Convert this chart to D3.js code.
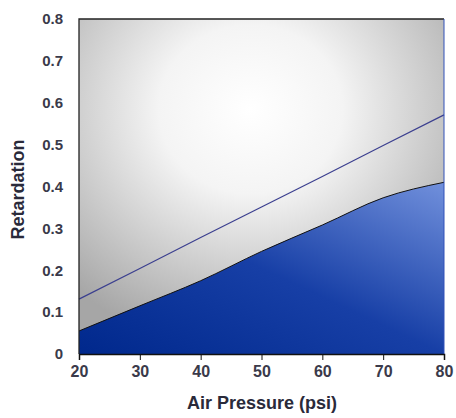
<!DOCTYPE html>
<html><head><meta charset="utf-8">
<script src="https://cdn.jsdelivr.net/npm/d3@7"></script>
<style>body{margin:0;background:#fff}svg{display:block}</style>
</head><body>
<svg id="c" width="456" height="418"></svg>
<script>
const pressure = [20, 30, 40, 50, 60, 70, 80];
const retardationLower = [0.055, 0.115, 0.175, 0.245, 0.308, 0.373, 0.41];
const retardationUpper = [0.131, 0.204, 0.278, 0.351, 0.424, 0.498, 0.571];
const xTicks = [20, 30, 40, 50, 60, 70, 80];
const yTicks = [0, 0.1, 0.2, 0.3, 0.4, 0.5, 0.6, 0.7, 0.8];

const svg = d3.select("#c");
const m = {l: 79, r: 12, t: 19, b: 64};
const W = 456, H = 418;
const x = d3.scaleLinear().domain([20, 80]).range([m.l, W - m.r]);
const y = d3.scaleLinear().domain([0, 0.8]).range([H - m.b, m.t]);
const FONT = "Liberation Sans, Arial, sans-serif";

const defs = svg.append("defs");
const rg = defs.append("radialGradient").attr("id", "bg")
  .attr("cx", "0.47").attr("cy", "0.27").attr("r", "0.72");
rg.append("stop").attr("offset", "0").attr("stop-color", "#ffffff");
rg.append("stop").attr("offset", "0.35").attr("stop-color", "#f4f4f4");
rg.append("stop").attr("offset", "1").attr("stop-color", "#a6a6a6");
const ag = defs.append("linearGradient").attr("id", "area")
  .attr("x1", "0").attr("y1", "1").attr("x2", "1").attr("y2", "0");
ag.append("stop").attr("offset", "0").attr("stop-color", "#00288c");
ag.append("stop").attr("offset", "0.5").attr("stop-color", "#173fa6");
ag.append("stop").attr("offset", "1").attr("stop-color", "#7190dc");

const pts = pressure.map((p, i) => ({p, lo: retardationLower[i], up: retardationUpper[i]}));

svg.append("rect").attr("x", x(20)).attr("y", y(0.8))
  .attr("width", x(80) - x(20)).attr("height", y(0) - y(0.8))
  .attr("fill", "url(#bg)");

svg.append("path").datum(pts)
  .attr("d", d3.area().x(d => x(d.p)).y0(y(0)).y1(d => y(d.lo)).curve(d3.curveMonotoneX))
  .attr("fill", "url(#area)");
svg.append("path").datum(pts)
  .attr("d", d3.line().x(d => x(d.p)).y(d => y(d.lo)).curve(d3.curveMonotoneX))
  .attr("fill", "none").attr("stroke", "#111").attr("stroke-width", 1);
svg.append("path").datum(pts)
  .attr("d", d3.line().x(d => x(d.p)).y(d => y(d.up)))
  .attr("fill", "none").attr("stroke", "#3b3f8f").attr("stroke-width", 1.2);

// frame
svg.append("path")
  .attr("d", `M${x(20)},${y(0)}V${y(0.8)}H${x(80)}`)
  .attr("fill", "none").attr("stroke", "#222").attr("stroke-width", 1.3);
svg.append("line").attr("x1", x(80)).attr("x2", x(80)).attr("y1", y(0.8)).attr("y2", y(0))
  .attr("stroke", "#3050b8").attr("stroke-width", 1);

const xa = svg.append("g").attr("transform", `translate(0,${y(0)})`)
  .call(d3.axisBottom(x).tickValues(xTicks).tickFormat(d3.format("d")).tickSize(6).tickPadding(6));
xa.select(".domain").attr("stroke", "#111").attr("stroke-width", 1.5);
xa.selectAll(".tick line").attr("stroke", "#111");
xa.selectAll("text").attr("font-family", FONT)
  .attr("font-size", 16).attr("font-weight", "bold").attr("fill", "#3a3a4a");

const ya = svg.append("g").attr("transform", `translate(${x(20)},0)`)
  .call(d3.axisLeft(y).tickValues(yTicks).tickFormat(d => d === 0 ? "0" : d3.format(".1f")(d)).tickSize(0).tickPadding(16));
ya.select(".domain").remove();
ya.selectAll("text").attr("font-family", FONT)
  .attr("font-size", 15).attr("font-weight", "bold").attr("fill", "#3a3a4a");

svg.append("text").attr("x", 262).attr("y", 409).attr("text-anchor", "middle")
  .attr("font-family", FONT).attr("font-size", 18)
  .attr("font-weight", "bold").attr("fill", "#2a2a3a").text("Air Pressure (psi)");
svg.append("text").attr("transform", `translate(24,${(y(0) + y(0.8)) / 2 + 3}) rotate(-90)`)
  .attr("text-anchor", "middle")
  .attr("font-family", FONT).attr("font-size", 18)
  .attr("font-weight", "bold").attr("fill", "#2a2a3a").text("Retardation");
</script>
</body></html>
